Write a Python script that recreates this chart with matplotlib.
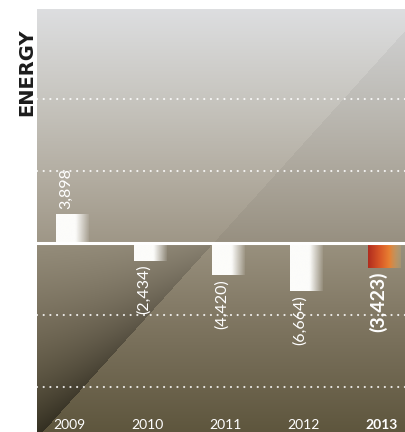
import numpy as np
import matplotlib.pyplot as plt
import matplotlib.transforms as mtransforms

# Energy segment results by year (negative = loss)
years = ['2009', '2010', '2011', '2012', '2013']
values = [3898, -2434, -4420, -6664, -3423]
value_labels = ['3,898', '(2,434)', '(4,420)', '(6,664)', '(3,423)']
highlight = '2013'
grid_levels = [-20000, -10000, 10000, 20000]

y_min, y_max = -26250, 32500

fig = plt.figure(figsize=(4.06, 4.32), dpi=100)
ax = fig.add_axes([37 / 406, 0, 1 - 37 / 406, 1 - 9 / 432])
ax.set_xlim(-0.45, 4.28)
ax.set_ylim(y_min, y_max)
ax.axis('off')

# --- background: vertical gradient split at zero, with a diagonal fold ---
H, W = 423, 369
rows = np.arange(H)[:, None] * np.ones((1, W))
cols = np.ones((H, 1)) * np.arange(W)[None, :]
zero_row = y_max / (y_max - y_min) * H

top_stops = [0, 90, 170, zero_row]
top_cols = np.array([(221, 222, 224), (199, 197, 191), (178, 172, 160), (158, 150, 134)])
bot_stops = [zero_row, zero_row + 80, H]
bot_cols = np.array([(150, 142, 124), (124, 115, 95), (92, 84, 60)])

r = np.arange(H)
base = np.zeros((H, 3))
for c in range(3):
    base[:, c] = np.where(r < zero_row,
                          np.interp(r, top_stops, top_cols[:, c]),
                          np.interp(r, bot_stops, bot_cols[:, c]))
bg = np.repeat(base[:, None, :], W, axis=1)

k = 0.903
line_col = 5 + (H - rows) * k
d = (cols - line_col) / np.sqrt(1 + k ** 2)
above = rows < zero_row
shade = np.ones((H, W))
shade[above & (d > 0)] = 0.955
t = np.clip((rows - zero_row) / (H - zero_row), 0, 1)
left_below = (~above) & (d < 0)
shade[left_below] = 1 - ((0.1 + 0.35 * t) * np.exp(d / 50))[left_below]
shade[(~above) & (d >= 0)] = 1.02
bg = np.clip(bg * shade[:, :, None], 0, 255) / 255
ax.imshow(bg, extent=[0, 1, 0, 1], transform=ax.transAxes,
          aspect='auto', zorder=0, interpolation='bilinear')

# --- grid and zero line ---
for lev in grid_levels:
    ax.axhline(lev, color='white', lw=1.6, ls=(0, (0.01, 3)),
               dash_capstyle='round', alpha=0.85, zorder=1)
ax.axhline(0, color='white', lw=2.2, zorder=3)

# --- bars with horizontal fade ---
x = np.arange(len(years))
bars = ax.bar(x, values, width=0.42, color='none', zorder=2)

u = np.linspace(0, 1, 200)
white_grad = np.ones((1, 200, 4))
white_grad[0, :, :3] = np.array([252, 252, 250]) / 255
white_grad[0, :, 3] = np.where(u < 0.6, 1.0, 1.0 - (u - 0.6) / 0.4 * 0.92)

hl_grad = np.ones((1, 200, 4))
hl_stops = [0, 0.35, 0.65, 1.0]
hl_rgb = np.array([(176, 44, 30), (215, 85, 38), (232, 128, 50), (205, 170, 105)]) / 255
for c in range(3):
    hl_grad[0, :, c] = np.interp(u, hl_stops, hl_rgb[:, c])
hl_grad[0, :, 3] = np.where(u < 0.65, 1.0, 1.0 - (u - 0.65) / 0.35 * 0.7)

for bar, yr in zip(bars, years):
    x0, y0 = bar.get_x(), bar.get_y()
    w, h = bar.get_width(), bar.get_height()
    grad = hl_grad if yr == highlight else white_grad
    ax.imshow(grad, extent=[x0, x0 + w, y0, y0 + h], aspect='auto',
              zorder=2, interpolation='bilinear')

# --- value labels ---
for xi, v, lab, yr in zip(x, values, value_labels, years):
    bold = yr == highlight
    off = 4 if v > 0 else -3
    ax.annotate(lab, (xi - 0.08, v), xytext=(0, off), textcoords='offset points',
                rotation=90, ha='center', va='bottom' if v > 0 else 'top',
                color='white', family='Lato',
                fontsize=14 if bold else 11.5,
                weight='bold' if bold else 'normal', zorder=4)

# --- year labels along the bottom ---
trans = mtransforms.blended_transform_factory(ax.transData, ax.transAxes)
for xi, yr in zip(x, years):
    bold = yr == highlight
    ax.text(xi - 0.03, 0.003, yr, transform=trans, ha='center', va='bottom',
            color='white', family='Lato', fontsize=10,
            weight='bold' if bold else 'normal', zorder=4)

fig.text(27 / 406, 1 - 72 / 432, 'ENERGY', rotation=90, ha='center', va='center',
         fontsize=14, weight='bold', color='#1c1c1c')

fig.savefig('out.png', dpi=100)
